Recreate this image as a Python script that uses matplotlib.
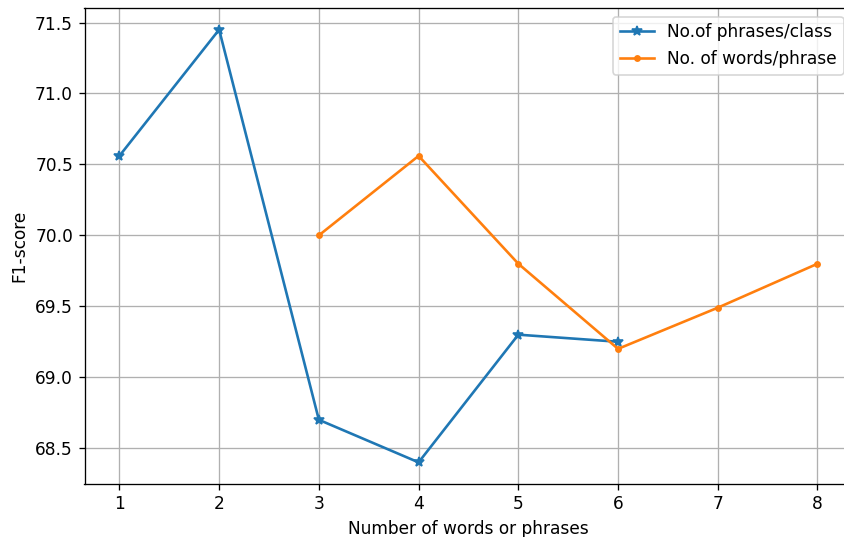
import matplotlib
matplotlib.use('Agg')
import matplotlib.pyplot as plt

# data
phrases_x = [1, 2, 3, 4, 5, 6]
phrases_f1 = [70.56, 71.45, 68.70, 68.40, 69.30, 69.25]
words_x = [3, 4, 5, 6, 7, 8]
words_f1 = [70.00, 70.56, 69.80, 69.20, 69.49, 69.80]

plt.rcParams['font.size'] = 10.4
plt.rcParams['lines.linewidth'] = 1.6
plt.rcParams['lines.markersize'] = 6.4

dpi = 118
fig = plt.figure(figsize=(844 / dpi, 537 / dpi), dpi=dpi)
# axes run past the right edge, like the cropped original
ax = fig.add_axes([84.5 / 844, 1 - 484 / 537, (852.4 - 84.5) / 844, (484 - 8) / 537])

ax.plot(phrases_x, phrases_f1, marker='*', label='No.of phrases/class')
ax.plot(words_x, words_f1, marker='.', label='No. of words/phrase')

ax.set_xlabel('Number of words or phrases')
ax.set_ylabel('F1-score')
ax.legend(loc='upper right')
ax.grid()

fig.savefig('out.png', dpi=dpi)
